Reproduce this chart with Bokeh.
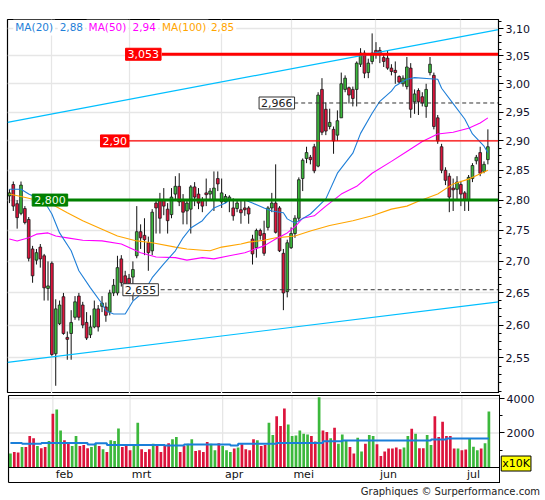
import numpy as np
from bokeh.plotting import figure
from bokeh.models import (ColumnDataSource, FixedTicker, CustomJSTickFormatter,
                          Label, Range1d, Div, LinearAxis)
from bokeh.layouts import column
from bokeh.embed import file_html
from bokeh.resources import INLINE
from bokeh.core.properties import value

# ---------------- data ----------------
open_ = [2.807, 2.826, 2.794, 2.778, 2.786, 2.768, 2.720, 2.702, 2.723, 2.709,
         2.657, 2.697, 2.556, 2.602, 2.644, 2.581, 2.587, 2.612, 2.645, 2.631,
         2.604, 2.585, 2.597, 2.625, 2.629, 2.628, 2.620, 2.650, 2.650, 2.704,
         2.677, 2.673, 2.675, 2.709, 2.748, 2.742, 2.730, 2.717, 2.795, 2.800,
         2.800, 2.785, 2.776, 2.810, 2.823, 2.800, 2.782, 2.785, 2.822, 2.810,
         2.800, 2.812, 2.810, 2.800, 2.836, 2.797, 2.797, 2.800, 2.787, 2.786,
         2.784, 2.787, 2.787, 2.736, 2.722, 2.750, 2.745, 2.755, 2.787, 2.795,
         2.787, 2.713, 2.652, 2.722, 2.745, 2.770, 2.836, 2.870, 2.872, 2.890,
         2.857, 2.990, 2.955, 2.925, 2.920, 2.910, 2.940, 2.990, 2.993, 2.990,
         2.990, 3.035, 3.055, 3.020, 3.040, 3.060, 3.060, 3.047, 3.046, 3.028,
         3.024, 3.013, 3.000, 2.995, 3.028, 2.968, 2.988, 2.977, 2.960, 3.020,
         3.015, 2.940, 2.890, 2.850, 2.840, 2.820, 2.818, 2.826, 2.812, 2.800,
         2.836, 2.866, 2.880, 2.848, 2.868]
high = [2.818, 2.831, 2.800, 2.831, 2.790, 2.772, 2.725, 2.720, 2.728, 2.712,
        2.700, 2.700, 2.640, 2.638, 2.650, 2.590, 2.623, 2.645, 2.650, 2.636,
        2.620, 2.615, 2.638, 2.631, 2.645, 2.635, 2.655, 2.672, 2.709, 2.710,
        2.685, 2.680, 2.700, 2.790, 2.760, 2.770, 2.740, 2.785, 2.800, 2.812,
        2.820, 2.795, 2.820, 2.840, 2.845, 2.810, 2.800, 2.825, 2.830, 2.820,
        2.805, 2.836, 2.820, 2.848, 2.848, 2.836, 2.810, 2.808, 2.803, 2.800,
        2.800, 2.800, 2.790, 2.743, 2.753, 2.753, 2.766, 2.790, 2.812, 2.860,
        2.790, 2.720, 2.735, 2.755, 2.775, 2.838, 2.870, 2.890, 2.876, 2.895,
        2.985, 3.010, 2.967, 2.956, 2.925, 2.953, 3.020, 3.015, 2.995, 2.995,
        3.040, 3.064, 3.060, 3.045, 3.091, 3.075, 3.066, 3.055, 3.060, 3.035,
        3.040, 3.015, 3.015, 3.048, 3.037, 2.990, 2.992, 2.985, 3.000, 3.048,
        3.020, 2.945, 2.895, 2.855, 2.845, 2.836, 2.840, 2.832, 2.815, 2.842,
        2.862, 2.876, 2.890, 2.865, 2.920]
low = [2.795, 2.782, 2.753, 2.775, 2.760, 2.700, 2.666, 2.695, 2.690, 2.638,
       2.638, 2.553, 2.508, 2.600, 2.585, 2.547, 2.547, 2.608, 2.607, 2.595,
       2.577, 2.580, 2.595, 2.590, 2.620, 2.605, 2.615, 2.645, 2.646, 2.660,
       2.652, 2.650, 2.638, 2.705, 2.720, 2.710, 2.685, 2.710, 2.745, 2.745,
       2.775, 2.745, 2.770, 2.800, 2.790, 2.760, 2.760, 2.745, 2.790, 2.785,
       2.780, 2.790, 2.800, 2.782, 2.815, 2.787, 2.795, 2.780, 2.766, 2.780,
       2.761, 2.774, 2.761, 2.695, 2.706, 2.735, 2.709, 2.750, 2.780, 2.745,
       2.715, 2.623, 2.643, 2.720, 2.738, 2.765, 2.815, 2.862, 2.860, 2.845,
       2.855, 2.910, 2.910, 2.920, 2.878, 2.900, 2.940, 2.985, 2.965, 2.960,
       2.960, 3.030, 3.010, 3.010, 3.035, 3.045, 3.037, 3.030, 3.025, 3.015,
       3.000, 3.000, 2.995, 2.990, 2.940, 2.947, 2.945, 2.960, 2.940, 3.015,
       2.920, 2.895, 2.845, 2.825, 2.780, 2.782, 2.800, 2.790, 2.782, 2.782,
       2.830, 2.860, 2.840, 2.845, 2.860]
close = [2.812, 2.790, 2.771, 2.825, 2.763, 2.705, 2.677, 2.714, 2.704, 2.658,
         2.661, 2.555, 2.625, 2.631, 2.587, 2.579, 2.604, 2.636, 2.612, 2.600,
         2.580, 2.597, 2.625, 2.597, 2.634, 2.615, 2.650, 2.662, 2.690, 2.666,
         2.657, 2.665, 2.687, 2.748, 2.738, 2.735, 2.714, 2.780, 2.787, 2.770,
         2.790, 2.766, 2.805, 2.823, 2.797, 2.780, 2.795, 2.822, 2.805, 2.795,
         2.790, 2.809, 2.815, 2.820, 2.827, 2.812, 2.806, 2.805, 2.774, 2.795,
         2.779, 2.784, 2.777, 2.712, 2.750, 2.742, 2.713, 2.787, 2.795, 2.747,
         2.717, 2.650, 2.730, 2.745, 2.770, 2.834, 2.867, 2.880, 2.868, 2.849,
         2.980, 2.915, 2.917, 2.932, 2.900, 2.935, 3.000, 3.010, 2.980, 2.974,
         3.037, 3.055, 3.019, 3.037, 3.055, 3.055, 3.052, 3.040, 3.028, 3.022,
         3.020, 3.003, 3.010, 3.030, 2.955, 2.982, 2.968, 2.966, 2.990, 3.035,
         2.925, 2.900, 2.850, 2.833, 2.805, 2.818, 2.830, 2.810, 2.800, 2.838,
         2.858, 2.872, 2.845, 2.860, 2.890]
volume = [806, 900, 864, 1190, 1190, 1824, 1690, 1250, 1114, 1190,
          1536, 3110, 3360, 2150, 1574, 1382, 1248, 1824, 1248, 1306,
          1114, 1190, 1382, 1248, 1056, 902, 1574, 1536, 2266, 1190,
          1248, 998, 1248, 2592, 1056, 902, 1056, 1382, 1344, 902,
          1248, 1402, 1632, 1766, 902, 1248, 1382, 1632, 960, 998,
          902, 1478, 1382, 998, 1402, 1248, 998, 902, 1094, 1152,
          1344, 1056, 998, 1632, 1574, 1248, 1306, 2592, 1882, 2976,
          2400, 3418, 2496, 1824, 1862, 2150, 1958, 1920, 1824, 1500,
          4070, 2150, 2054, 1690, 2304, 1382, 1920, 1574, 1190, 806,
          1728, 922, 1382, 1882, 1824, 1344, 672, 922, 1094, 1094,
          1152, 1056, 1152, 1824, 2246, 1958, 1114, 1114, 1882, 1300,
          2976, 1766, 2650, 1824, 1824, 1100, 1100, 1000, 1050, 1700,
          1200, 1000, 1100, 1400, 3250]

# moving averages (day index, value)
ma20_x = [0, 3, 5, 9, 11, 13, 16, 18, 21, 24, 25, 27, 30, 32, 35, 37, 40, 43, 45, 47,
          50, 51, 53, 56, 57, 61, 63, 66, 68, 71, 72, 74, 78, 82, 85, 89, 91, 94, 96, 99,
          100, 103, 105, 109, 111, 112, 115, 118, 120, 123, 124]
ma20_y = [2.818, 2.818, 2.810, 2.798, 2.777, 2.746, 2.717, 2.685, 2.658, 2.633, 2.622,
          2.617, 2.617, 2.637, 2.653, 2.674, 2.696, 2.717, 2.738, 2.754, 2.766, 2.774,
          2.787, 2.795, 2.800, 2.800, 2.795, 2.787, 2.782, 2.779, 2.769, 2.762, 2.777,
          2.802, 2.845, 2.879, 2.913, 2.948, 2.969, 2.987, 2.996, 3.008, 3.011, 3.009,
          3.008, 2.992, 2.965, 2.938, 2.912, 2.891, 2.880]
ma50_x = [0, 2, 5, 7, 10, 12, 15, 19, 24, 29, 34, 38, 43, 46, 50, 53, 57, 61, 66, 69,
          72, 74, 76, 79, 82, 86, 90, 94, 99, 103, 107, 111, 115, 119, 122, 124]
ma50_y = [2.736, 2.733, 2.738, 2.744, 2.746, 2.741, 2.738, 2.734, 2.733, 2.728, 2.714,
          2.707, 2.706, 2.702, 2.706, 2.704, 2.709, 2.714, 2.725, 2.736, 2.746, 2.756,
          2.770, 2.774, 2.790, 2.810, 2.823, 2.845, 2.865, 2.882, 2.899, 2.912, 2.915,
          2.922, 2.931, 2.940]
ma100_x = [0, 5, 11, 15, 19, 24, 28, 33, 37, 43, 46, 50, 52, 55, 60, 62, 66, 69, 74, 78,
           83, 89, 94, 99, 103, 106, 111, 115, 119, 122, 124]
ma100_y = [2.810, 2.803, 2.793, 2.779, 2.766, 2.752, 2.741, 2.733, 2.730, 2.723, 2.720,
           2.718, 2.717, 2.723, 2.728, 2.731, 2.734, 2.738, 2.741, 2.749, 2.758, 2.766,
           2.774, 2.785, 2.790, 2.798, 2.810, 2.827, 2.835, 2.844, 2.850]
ma_last = ["2,88", "2,94", "2,85"]

# volume average (step breakpoints)
vma_x = [0, 3, 8, 20, 22, 25, 40, 45, 57, 59, 69, 81, 86, 109, 113, 124]
vma_y = [1420, 1370, 1420, 1330, 1400, 1310, 1280, 1330, 1280, 1370, 1420, 1520, 1570,
         1620, 1680, 1680]

# trend lines (day index at frame edges, price)
trend_x = [-0.5, 126.75]
trend_upper = [2.932, 3.098]
trend_lower = [2.543, 2.636]

# support / resistance levels
level_value = [3.053, 2.90, 2.800, 2.966, 2.655]
level_text = ["3,053", "2,90", "2,800", "2,966", "2,655"]
level_label_x = [30.1, 23.6, 5.9, 64.7, 29.4]
level_line_x = [39.5, 30.1, 14.8, 73.8, 39.2]

# months
month_first_idx = [11, 31, 55, 73, 95, 117]
month_names = ["feb", "mrt", "apr", "mei", "jun", "jul"]

price_ticks = [2.55, 2.60, 2.65, 2.70, 2.75, 2.80, 2.85, 2.90, 2.95, 3.00, 3.05, 3.10]
vol_ticks = [2000, 4000]
vol_minor = [1000, 3000]
vol_unit = "x10K"

# ---------------- styling constants ----------------
FONT = "DejaVu Sans"
GREEN = "#3cb83c"
RED = "#dc143c"
GRID = "#e6e6e6"
X_LO, X_HI = -0.5, 126.75
P_LO, P_HI = 2.4965, 3.1166
V_LO, V_HI = -870, 4174
FRAME_W = 491

o = np.array(open_); h = np.array(high); l = np.array(low); c = np.array(close)
x = np.arange(len(c))
colors = np.where(c >= o, GREEN, RED)
top = np.maximum(o, c)
bot = np.minimum(o, c)
bot = np.where(top - bot < 0.002, bot - 0.001, bot)
top = np.where(top - bot < 0.002, top + 0.001, top)

src = ColumnDataSource(dict(x=x, h=h, l=l, top=top, bot=bot, color=colors,
                            vol=np.array(volume)))

# ---------------- price panel ----------------
p = figure(frame_width=FRAME_W, frame_height=374, y_axis_type="log",
           x_range=Range1d(X_LO, X_HI), y_range=Range1d(P_LO, P_HI),
           x_axis_location=None, y_axis_location="right",
           toolbar_location=None, output_backend="svg",
           min_border_left=7, min_border_top=19, min_border_bottom=0,
           min_border_right=0)
p.background_fill_color = "white"
p.border_fill_color = "white"
p.outline_line_color = "black"
p.outline_line_width = 1.2
p.xgrid.ticker = FixedTicker(ticks=month_first_idx)
p.xgrid.grid_line_color = GRID
p.xgrid.grid_line_width = 1.3
p.ygrid.grid_line_color = GRID
p.ygrid.grid_line_width = 1.3

minor = [round(2.50 + 0.0125 * k, 4) for k in range(50)]
minor = [m for m in minor if all(abs(m - t) > 1e-6 for t in price_ticks)]
ya = p.yaxis[0]
ya.ticker = FixedTicker(ticks=price_ticks, minor_ticks=minor)
ya.formatter = CustomJSTickFormatter(code="return tick.toFixed(2).replace('.', ',');")
ya.major_label_text_font = FONT
ya.major_label_text_font_size = "11px"
ya.major_label_text_color = "#10102a"
ya.major_tick_in = 0
ya.major_tick_out = 5
ya.minor_tick_in = 0
ya.minor_tick_out = 3
ya.major_label_standoff = 2
ya.axis_line_color = "black"

# candles
p.segment(x0="x", y0="l", x1="x", y1="h", source=src, line_color="#111111", line_width=1)
p.vbar(x="x", width=0.7, top="top", bottom="bot", fill_color="color",
       line_color="#1a1a1a", line_width=0.8, source=src)

# moving averages
p.line(ma100_x, ma100_y, line_color="#ffa500", line_width=1.1)
p.line(ma50_x, ma50_y, line_color="#ff00ff", line_width=1.1)
p.line(ma20_x, ma20_y, line_color="#1f7fd8", line_width=1.1)

# trend lines
p.line(trend_x, trend_upper, line_color="#00bfff", line_width=1.2)
p.line(trend_x, trend_lower, line_color="#00bfff", line_width=1.2)

# levels
lv_style = [
    dict(line_color="#ff0000", line_width=3),
    dict(line_color="#ff0000", line_width=1.2),
    dict(line_color="#008000", line_width=3),
    dict(line_color="#333333", line_width=1, line_dash="4 3"),
    dict(line_color="#333333", line_width=1, line_dash="4 3"),
]
lb_style = [
    dict(background_fill_color="#ff0000", border_line_color="#ff0000", text_color="white"),
    dict(background_fill_color="#ff0000", border_line_color="#ff0000", text_color="white"),
    dict(background_fill_color="#008000", border_line_color="#008000", text_color="#f4ffe8"),
    dict(background_fill_color="white", border_line_color="#333333", text_color="#222222"),
    dict(background_fill_color="white", border_line_color="#333333", text_color="#222222"),
]
for val, txt, lx, sx, ls, bs in zip(level_value, level_text, level_label_x,
                                    level_line_x, lv_style, lb_style):
    p.segment(x0=[sx], y0=[val], x1=[X_HI], y1=[val], **ls)
    p.add_layout(Label(x=lx, y=val, text=txt, text_font=FONT, text_font_size="11px",
                       text_baseline="middle", text_align="left", padding=2,
                       border_line_width=1, **bs))

# MA legend at top
legend_y = P_HI * np.exp(-0.0047)
legend_items = [("MA(20)", 1.0, "#1f7fd8"), (ma_last[0], 12.5, "#1f7fd8"),
                ("MA(50)", 20.0, "#ff00ff"), (ma_last[1], 31.4, "#ff00ff"),
                ("MA(100)", 39.0, "#ffa500"), (ma_last[2], 51.7, "#ffa500")]
for txt, lx, colr in legend_items:
    p.add_layout(Label(x=lx, y=legend_y, text=txt, text_font=FONT, text_font_size="10.5px",
                       text_color=colr, text_baseline="middle", text_align="left",
                       background_fill_color="white", padding=2))

# ---------------- volume panel ----------------
# frame is widened to the right edge so the unit box can sit beside the axis
PX_PER_IDX = FRAME_W / (X_HI - X_LO)
VX_LO = X_LO - 1 / PX_PER_IDX
VX_HI = X_LO + (545 - 7) / PX_PER_IDX
V_PER_PX = V_HI / 72.0
VY_LO = V_LO - V_PER_PX
VY_HI = V_HI + V_PER_PX

pv = figure(frame_width=539, frame_height=89,
            x_range=Range1d(VX_LO, VX_HI), y_range=Range1d(VY_LO, VY_HI),
            x_axis_location=None, y_axis_location=None,
            toolbar_location=None, output_backend="svg",
            min_border_left=6, min_border_top=1, min_border_bottom=0,
            min_border_right=0)
pv.background_fill_color = "white"
pv.border_fill_color = "white"
pv.outline_line_color = None
pv.xgrid.visible = False
pv.ygrid.visible = False

# grid lines inside the panel box
pv.segment(x0=month_first_idx, y0=0, x1=month_first_idx, y1=V_HI,
           line_color=GRID, line_width=1.3)
pv.segment(x0=[X_LO] * len(vol_ticks), y0=vol_ticks, x1=[X_HI] * len(vol_ticks),
           y1=vol_ticks, line_color=GRID, line_width=1.3)

pv.vbar(x="x", width=0.7, top="vol", bottom=0, fill_color="color", line_color=None,
        source=src)
pv.step(vma_x, vma_y, mode="after", line_color="#1a7fd9", line_width=2)

# panel box and volume baseline
pv.segment(x0=[X_LO, X_LO, X_LO, X_LO], y0=[V_HI, V_LO, V_LO, 0],
           x1=[X_HI, X_HI, X_LO, X_HI], y1=[V_HI, V_LO, V_HI, 0],
           line_color="black", line_width=1.2)

va = LinearAxis(fixed_location=X_HI,
                ticker=FixedTicker(ticks=vol_ticks, minor_ticks=vol_minor))
va.major_label_text_font = FONT
va.major_label_text_font_size = "11px"
va.major_label_text_color = "#10102a"
va.major_tick_in = 0
va.major_tick_out = 5
va.minor_tick_in = 0
va.minor_tick_out = 3
va.major_label_standoff = 2
va.axis_line_color = "black"
va.axis_line_width = 1
pv.add_layout(va, "right")

pv.text(x=[m + 3 for m in month_first_idx], y=[V_LO / 2] * len(month_first_idx),
        text=month_names, text_align="center", text_baseline="middle",
        text_font=value(FONT), text_font_size="11px", text_color="#111111")

pv.add_layout(Label(x=X_HI + 0.45, y=230, text=vol_unit, text_font=FONT,
                    text_font_size="11px", text_color="black", text_baseline="middle",
                    text_align="left", background_fill_color="#ffff00",
                    border_line_color="black", padding=1))

footer = Div(text="Graphiques © Surperformance.com", width=540, height=17, margin=0,
             styles={"text-align": "right", "font-family": "DejaVu Sans",
                     "font-size": "10px", "color": "#222222", "line-height": "17px"})

layout = column(p, pv, footer)
open("out.html", "w").write(file_html(layout, INLINE))
